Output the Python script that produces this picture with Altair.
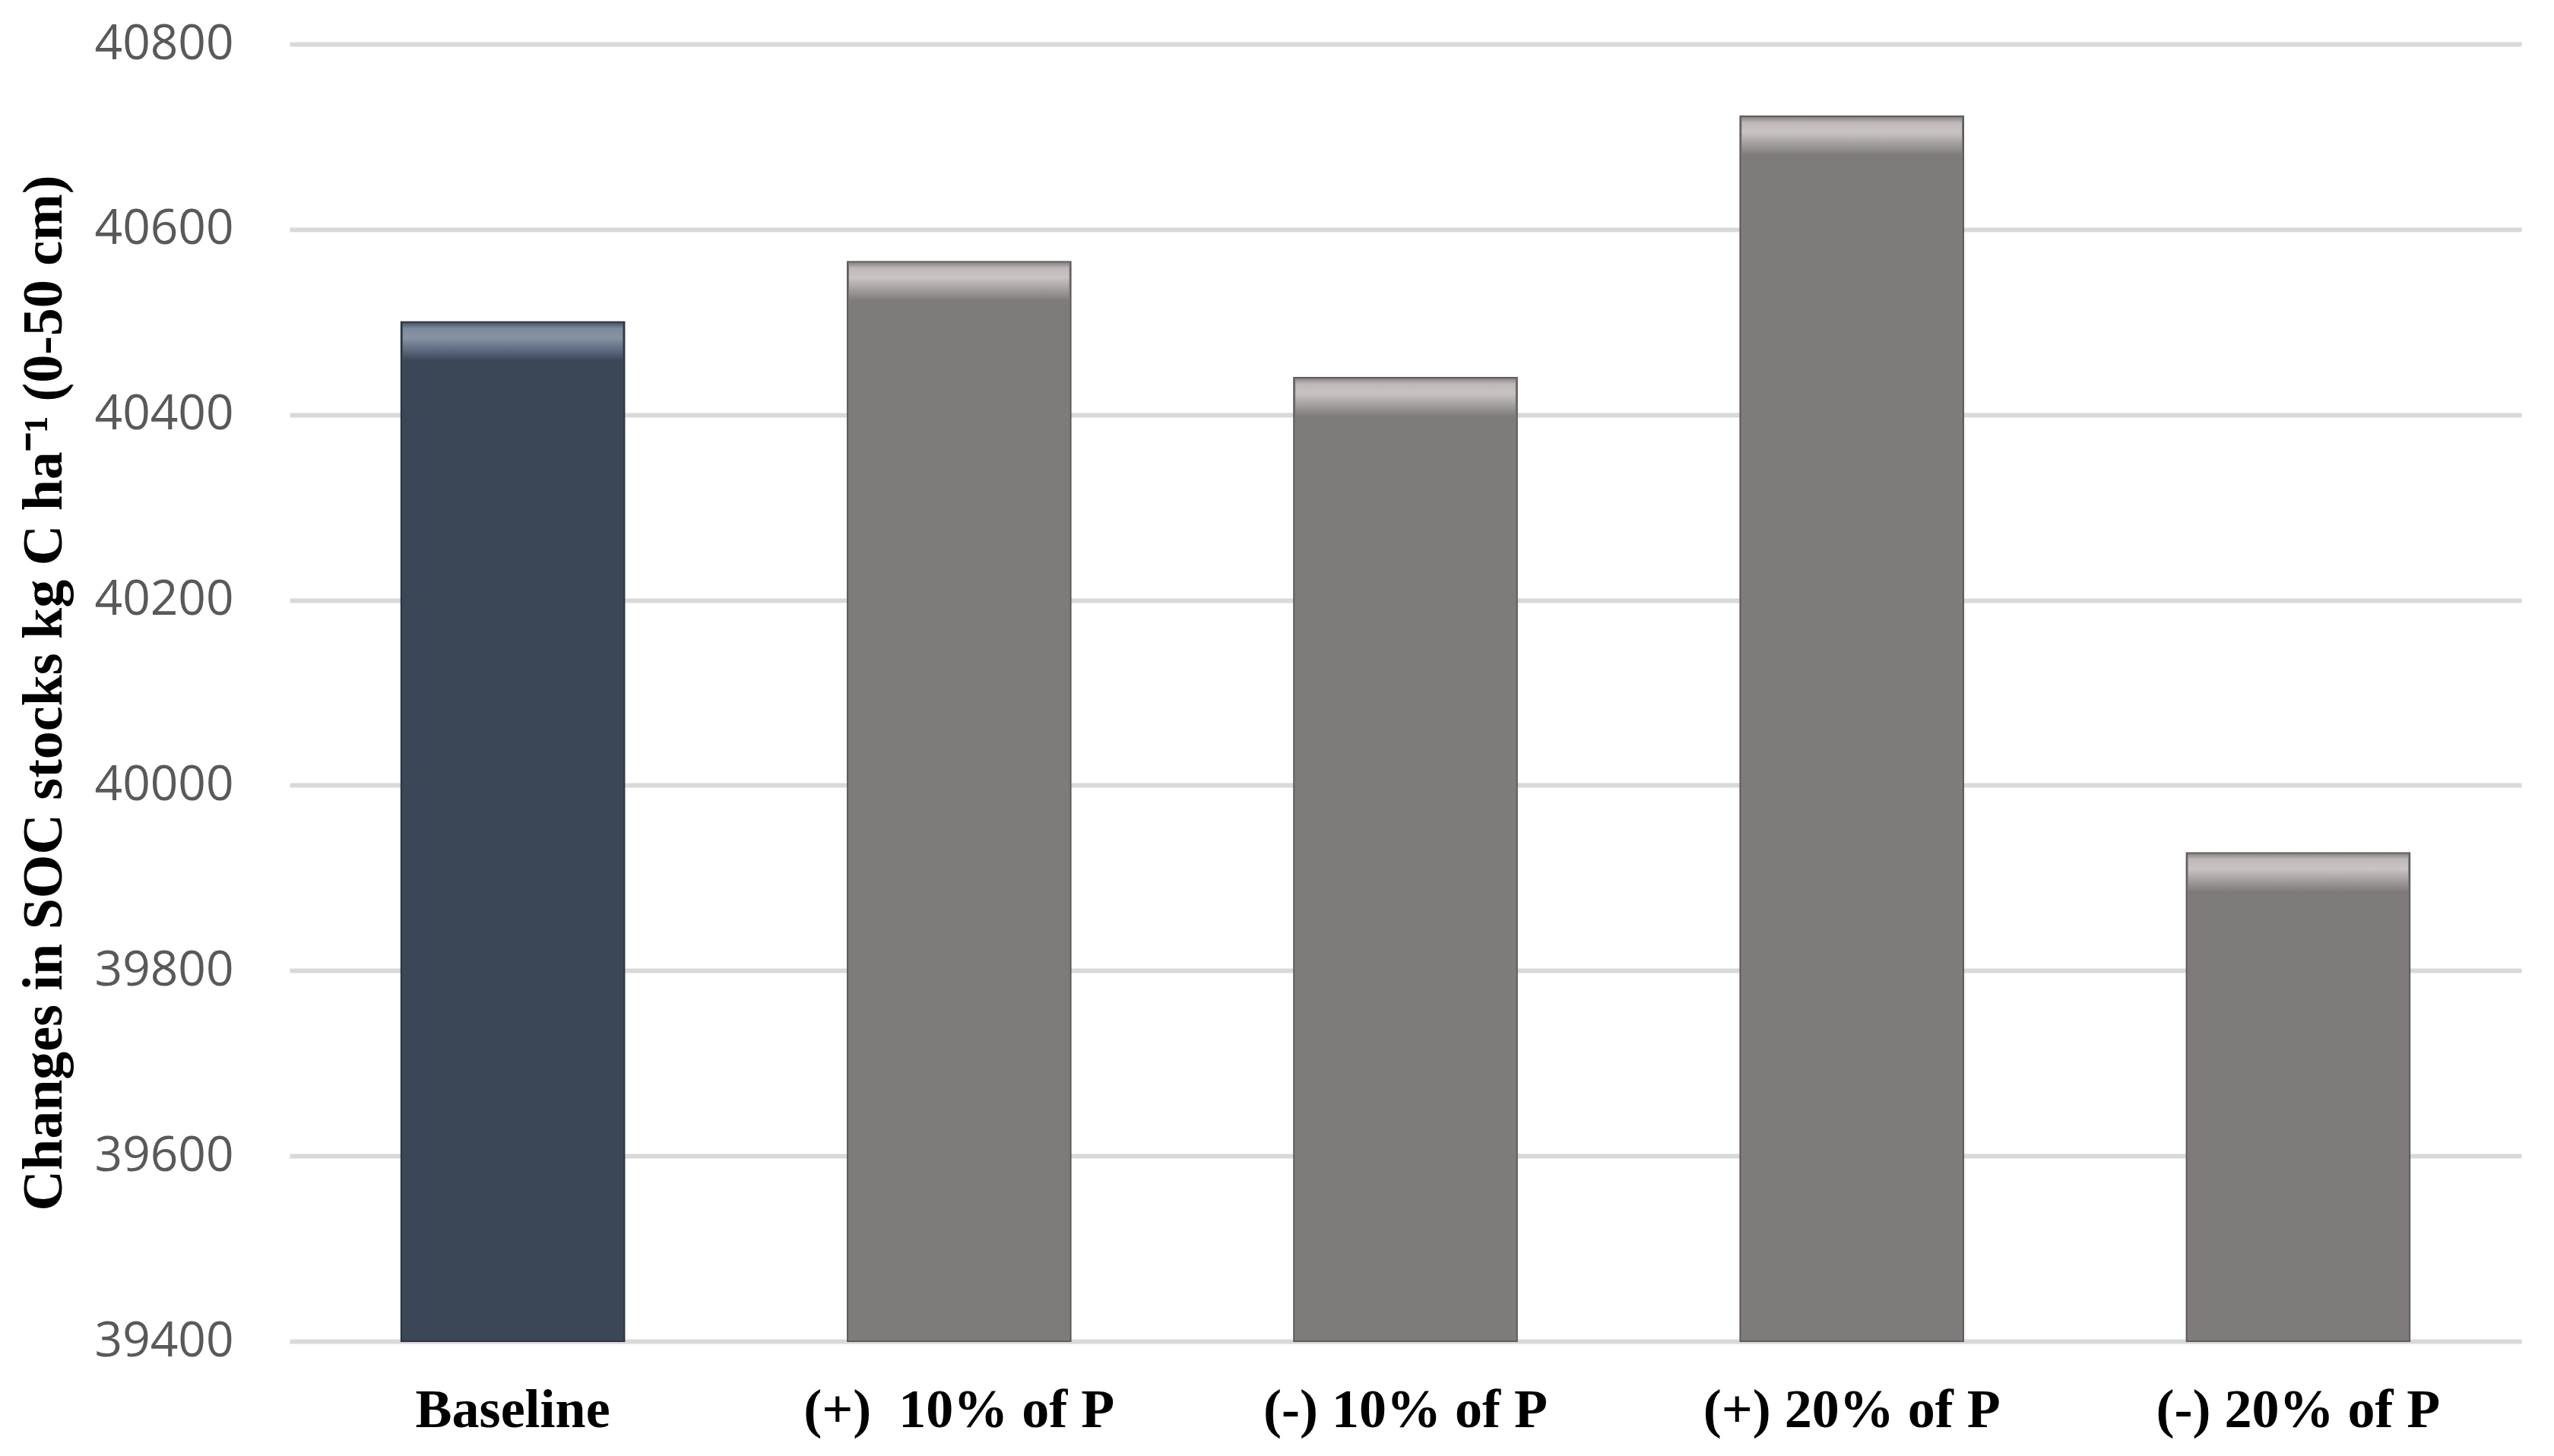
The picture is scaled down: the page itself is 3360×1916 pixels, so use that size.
import altair as alt
import pandas as pd

categories = ["Baseline", "(+)\u00a0 10% of P", "(-) 10% of P", "(+) 20% of P", "(-) 20% of P"]
values = [40500, 40565, 40440, 40722, 39927]
groups = ["Baseline", "Scenario", "Scenario", "Scenario", "Scenario"]
y_ticks = [39400, 39600, 39800, 40000, 40200, 40400, 40600, 40800]

df = pd.DataFrame({"cat": categories, "val": values, "grp": groups})

W, H = 2936, 1707
band = W / 5
bar_w = band * 0.5
bevel = 50

x_enc = alt.X("cat:N", sort=categories, title=None,
              scale=alt.Scale(paddingInner=0.5, paddingOuter=0.25),
              axis=alt.Axis(labelAngle=0, labelFont="Liberation Serif", labelFontWeight="bold",
                            labelFontSize=72, labelColor="#000000", labelPadding=55, labelLimit=0,
                            ticks=False, domain=False, grid=False))
y_enc = alt.Y("val:Q", title="Changes in SOC stocks kg C ha⁻¹ (0-50 cm)",
              scale=alt.Scale(domain=[39400, 40800], zero=False, nice=False),
              axis=alt.Axis(values=y_ticks, format="d", labelFont="Open Sans", labelFontSize=64,
                            labelColor="#595959", labelPadding=74, labelLimit=0, ticks=False, domain=False,
                            gridColor="#d9d9d9", gridWidth=6,
                            titleFont="Liberation Serif", titleFontWeight="bold", titleFontSize=74,
                            titleColor="#000000", titleX=-323, titleBaseline="middle"))

bars = alt.Chart(df).mark_bar(strokeWidth=2).encode(
    x=x_enc,
    y=y_enc,
    y2=alt.datum(39400),
    color=alt.Color("grp:N", scale=alt.Scale(domain=["Baseline", "Scenario"],
                                             range=["#3b4757", "#7f7b7a"]), legend=None),
    stroke=alt.Stroke("grp:N", scale=alt.Scale(domain=["Baseline", "Scenario"],
                                               range=["#2b3542", "#5f5b5a"]), legend=None),
)

grad_dark = alt.Gradient(gradient="linear", x1=0, x2=0, y1=0, y2=1, stops=[
    alt.GradientStop(offset=0, color="#4a5668"),
    alt.GradientStop(offset=0.15, color="#7d8a9c"),
    alt.GradientStop(offset=0.4, color="#8693a4"),
    alt.GradientStop(offset=0.75, color="#5a667b"),
    alt.GradientStop(offset=1, color="#3b4757"),
])
grad_gray = alt.Gradient(gradient="linear", x1=0, x2=0, y1=0, y2=1, stops=[
    alt.GradientStop(offset=0, color="#8a8584"),
    alt.GradientStop(offset=0.15, color="#bfbab9"),
    alt.GradientStop(offset=0.4, color="#c8c4c3"),
    alt.GradientStop(offset=0.75, color="#9d9998"),
    alt.GradientStop(offset=1, color="#7f7b7a"),
])

bevel_dark = alt.Chart(df).transform_filter(alt.datum.grp == "Baseline").mark_tick(
    size=bar_w - 4, thickness=bevel, yOffset=bevel / 2 + 1, fill=grad_dark, opacity=1, filled=True
).encode(x=alt.X("cat:N", sort=categories), y=alt.Y("val:Q"))

bevel_gray = alt.Chart(df).transform_filter(alt.datum.grp == "Scenario").mark_tick(
    size=bar_w - 4, thickness=bevel, yOffset=bevel / 2 + 1, fill=grad_gray, opacity=1, filled=True
).encode(x=alt.X("cat:N", sort=categories), y=alt.Y("val:Q"))

chart = alt.layer(bars, bevel_dark, bevel_gray).properties(
    width=W, height=H,
    autosize=alt.AutoSizeParams(type="none"),
    padding={"left": 373, "top": 50, "right": 35, "bottom": 143},
    background="#ffffff",
).configure_view(stroke=None)

chart.save("out.html", embed_options={"renderer": "svg", "actions": False})
